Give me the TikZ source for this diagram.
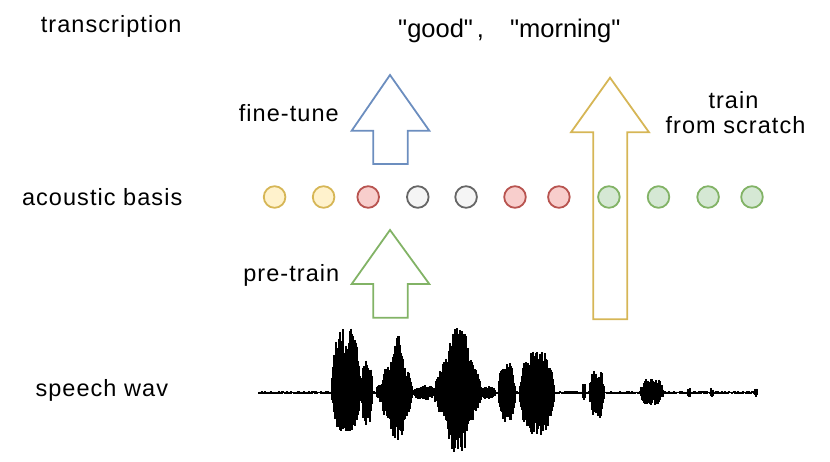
\documentclass[tikz,border=0pt]{standalone}
\usepackage{fontspec}
\setmainfont{Liberation Sans}
\newfontfamily\qfont{Liberation Sans}[Ligatures=ResetAll]
\definecolor{ylwfill}{HTML}{FFF2CC}
\definecolor{ylwdraw}{HTML}{D6B656}
\definecolor{redfill}{HTML}{F8CECC}
\definecolor{reddraw}{HTML}{B85450}
\definecolor{gryfill}{HTML}{F5F5F5}
\definecolor{grydraw}{HTML}{666666}
\definecolor{grnfill}{HTML}{D5E8D4}
\definecolor{grndraw}{HTML}{82B366}
\definecolor{bludraw}{HTML}{6C8EBF}
\begin{document}
\begin{tikzpicture}[x=1pt,y=-1pt,
  declare function={bump(\x,\y,\z)=max(0,1-(min(abs(\x-\y)/\z,2))^4);},
  lbl/.style={inner sep=0pt,anchor=base,font=\fontsize{23.5}{28}\selectfont\addfontfeature{LetterSpace=4.5}},
  quote/.style={inner sep=0pt,anchor=base west,font=\qfont\fontsize{25.5}{30}\selectfont},
  basis/.style={circle,minimum size=21.6pt,inner sep=0pt,line width=1.8pt},
  yb/.style={basis,fill=ylwfill,draw=ylwdraw},
  rb/.style={basis,fill=redfill,draw=reddraw},
  gb/.style={basis,fill=gryfill,draw=grydraw},
  nb/.style={basis,fill=grnfill,draw=grndraw},
  blockarrow/.style={line width=1.8pt,line join=miter},
  wave/.style={line width=1.1pt,black}]
\useasboundingbox (0,0) rectangle (830,461);

% labels
\node[lbl] (ltrans) at (111.2,32.3) {transcription};
\node[quote] (words) at (398,37.3) {"good"\hspace{4pt},\hspace{26pt}"morning"};
\node[lbl] (lfine) at (288.8,121.7) {fine-tune};
\node[lbl] (ltrain) at (733.5,108.3) {train};
\node[lbl] (lscratch) at (735.5,133.3) {from scratch};
\node[lbl] (lbasis) at (102.2,205) {acoustic basis};
\node[lbl] (lpre) at (291.3,281.7) {pre-train};
\node[lbl] (lwav) at (101.8,396) {speech wav};

% acoustic basis circles
\node[yb] (c1) at (274.6,197) {};
\node[yb] (c2) at (323.6,197) {};
\node[rb] (c3) at (368.2,197) {};
\node[gb] (c4) at (417.8,197) {};
\node[gb] (c5) at (466.1,197) {};
\node[rb] (c6) at (515,197) {};
\node[rb] (c7) at (558.9,197) {};
\node[nb] (c8) at (608.9,197) {};
\node[nb] (c9) at (658.5,197) {};
\node[nb] (c10) at (708.1,197) {};
\node[nb] (c11) at (752,197) {};

% block arrows
\draw[blockarrow,draw=bludraw] (390,75) -- (429.3,130.7) -- (407.7,130.7) -- (407.7,164)
  -- (373.3,164) -- (373.3,130.7) -- (351.7,130.7) -- cycle;
\draw[blockarrow,draw=grndraw] (390,230) -- (429.3,284) -- (407.7,284) -- (407.7,317.7)
  -- (373.3,317.7) -- (373.3,284) -- (351.7,284) -- cycle;
\draw[blockarrow,draw=ylwdraw] (610,77.7) -- (649,132.3) -- (627.3,132.3) -- (627.3,319.3)
  -- (593.3,319.3) -- (593.3,132.3) -- (571,132.3) -- cycle;

% speech waveform
\draw[gray!60,line width=1.2pt] (258.4,392.6) -- (758,392.6);
\pgfmathsetseed{12}
\foreach \i in {259,...,757}{
  \pgfmathsetmacro\eu{1.2+64*bump(\i,346,15)+31*bump(\i,367,6)+8*bump(\i,381,5)+30*bump(\i,397,16)+26*bump(\i,397,7)+6*bump(\i,425,12)+36*bump(\i,458,24)+28*bump(\i,458,11)+5*bump(\i,488,8)+29*bump(\i,507,9)+40*bump(\i,537,18)+8*bump(\i,584,2)+22*bump(\i,597,8)+13.5*bump(\i,652,12)+4*bump(\i,689,2)+4*bump(\i,712,2)+3*bump(\i,756,2)}
  \pgfmathsetmacro\ed{1.2+39*bump(\i,346,15)+32*bump(\i,367,6)+8*bump(\i,381,5)+27*bump(\i,397,16)+23*bump(\i,397,7)+6*bump(\i,425,12)+33*bump(\i,458,24)+26*bump(\i,458,11)+5*bump(\i,488,8)+29*bump(\i,507,9)+42*bump(\i,537,18)+8*bump(\i,584,2)+25*bump(\i,597,8)+12*bump(\i,652,12)+4*bump(\i,689,2)+4*bump(\i,712,2)+3*bump(\i,756,2)}
  \pgfmathsetmacro\ra{0.4+0.6*sqrt(rnd)}
  \pgfmathsetmacro\rb{0.4+0.6*sqrt(rnd)}
  \draw[wave] (\i,{392.6-\eu*\ra}) -- (\i,{392.6+\ed*\rb});
}
\end{tikzpicture}
\end{document}
